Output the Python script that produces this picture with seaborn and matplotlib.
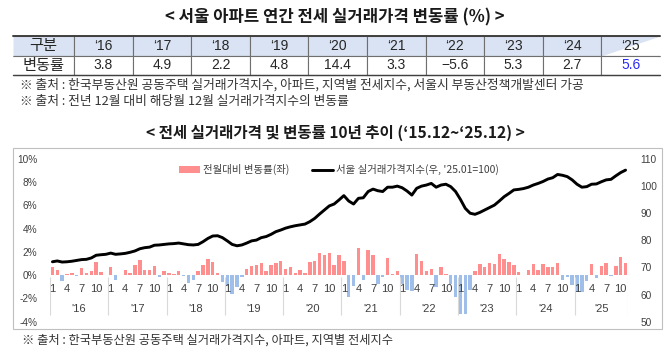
import numpy as np
import pandas as pd
import matplotlib
matplotlib.use("Agg")
import matplotlib.pyplot as plt
from matplotlib.patches import Patch, Rectangle
from matplotlib.lines import Line2D
import seaborn as sns

# ---------------- data ----------------
table_years = ["‘16", "‘17", "‘18", "‘19", "‘20", "‘21", "‘22", "‘23", "‘24", "‘25"]
table_values = ["3.8", "4.9", "2.2", "4.8", "14.4", "3.3", "−5.6", "5.3", "2.7", "5.6"]

year_labels = ["'16", "'17", "'18", "'19", "'20", "'21", "'22", "'23", "'24", "'25"]
month_tick_labels = ["1", "4", "7", "10"]

# month-on-month change (%), Jan 2016 .. Nov 2025
mom_change = [
    0.72, 0.43, -0.49, 0.11, 0.17, -0.06, 0.60, 0.20, 0.40, 1.12, 0.26, 0.00,
    0.72, -0.43, 0.00, 0.49, 0.20, 0.92, 1.32, 0.49, 0.49, 0.78, -0.14, 0.37,
    0.20, 0.09, 0.37, -0.05, -0.63, -0.43, 0.37, 0.86, 1.38, 1.15, 0.20, -0.57,
    -0.92, -1.58, -1.00, -0.14, 0.57, 0.78, 0.86, 1.09, 0.37, 0.92, 1.03, 1.20,
    0.52, 0.72, 0.20, 0.43, 0.23, 1.15, 1.20, 1.92, 1.72, 1.87, 0.86, 1.72,
    1.20, -1.90, -0.92, 2.36, -0.37, 2.18, 1.75, -0.72, -0.17, 1.44, 0.08, 0.37,
    -0.75, -1.30, -1.35, 1.80, 1.24, 0.40, 0.55, -1.00, 0.70, 0.14, -0.72, -1.90,
    -3.30, -3.30, -1.27, 0.34, 0.94, 0.72, 1.09, 0.95, 1.84, 1.40, 1.15, 0.92,
    0.29, 0.00, 0.43, 0.96, 0.43, 0.96, 0.68, 0.68, 1.02, -0.37, -0.15, -0.86,
    -1.41, -1.44, -0.50, 0.94, -0.25, 0.78, 1.06, -0.10, 0.83, 1.61, 1.03,
]

# Seoul real transaction price index ('25.01 = 100)
price_index = [
    72.1, 72.4, 72.0, 72.1, 72.3, 72.6, 72.9, 73.0, 73.5, 74.5, 74.7, 74.85,
    75.3, 74.85, 75.0, 75.2, 75.6, 76.1, 76.9, 77.3, 77.5, 78.2, 78.3, 78.5,
    78.7, 78.8, 79.0, 78.7, 78.4, 78.3, 78.5, 79.5, 80.7, 81.6, 81.7, 81.0,
    79.8, 78.5, 78.0, 78.3, 79.0, 79.8, 80.1, 81.0, 81.4, 82.2, 83.2, 83.8,
    84.5, 85.0, 85.4, 85.7, 86.0, 86.9, 88.1, 89.7, 91.2, 92.7, 93.4, 94.9,
    96.5, 94.5, 93.4, 95.5, 95.7, 98.0, 98.9, 98.3, 98.0, 99.6, 99.6, 100.0,
    99.4, 98.2, 96.7, 99.2, 100.0, 100.4, 101.0, 99.6, 100.4, 100.7, 99.8, 98.0,
    95.1, 91.8, 90.0, 89.6, 90.3, 91.2, 92.1, 93.0, 94.5, 96.1, 97.3, 98.6,
    98.8, 99.1, 99.6, 100.4, 101.0, 101.7, 102.6, 103.1, 104.3, 104.0, 103.5, 102.3,
    100.7, 99.6, 99.8, 100.7, 100.8, 101.6, 102.3, 102.5, 103.8, 105.0, 105.9,
]

title_top = "< 서울 아파트 연간 전세 실거래가격 변동률 (%) >"
note1 = "※ 출처 : 한국부동산원 공동주택 실거래가격지수, 아파트, 지역별 전세지수, 서울시 부동산정책개발센터 가공"
note2 = "※ 출처 : 전년 12월 대비 해당월 12월 실거래가격지수의 변동률"
title_chart = "< 전세 실거래가격 및 변동률 10년 추이 (‘15.12~‘25.12) >"
footnote = "※ 출처 : 한국부동산원 공동주택 실거래가격지수, 아파트, 지역별 전세지수"
legend_bar = "전월대비 변동률(좌)"
legend_line = "서울 실거래가격지수(우, '25.01=100)"

POS_COLOR = "#FF8E8E"
NEG_COLOR = "#9FBFEA"

# ---------------- style ----------------
sns.set_theme(style="white")
plt.rcParams["font.family"] = ["Liberation Sans", "Noto Sans CJK KR", "DejaVu Sans"]
KR = ["Noto Sans CJK KR", "DejaVu Sans"]

W, H = 670, 357
fig = plt.figure(figsize=(W / 100, H / 100), dpi=100)


def fx(px):
    return px / W


def fy(py):
    return 1 - py / H


# ---------------- top title, table, notes ----------------
fig.text(fx(335), fy(17), title_top, ha="center", va="center", fontsize=12,
         fontweight="bold", color="#1a1a1a", family=KR)

t_left, t_right, t_top, t_bot = 13, 660, 36, 75
ax_t = fig.add_axes([fx(t_left), fy(t_bot), fx(t_right - t_left), (t_bot - t_top) / H])
ax_t.set_axis_off()
first_w = 61
other_w = (t_right - t_left - first_w) / len(table_years)
col_widths = [first_w / (t_right - t_left)] + [other_w / (t_right - t_left)] * len(table_years)
cell_text = [["구분"] + table_years, ["변동률"] + table_values]
tbl = ax_t.table(cellText=cell_text, colWidths=col_widths, bbox=[0, 0, 1, 1], cellLoc="center")
tbl.auto_set_font_size(False)
ncol = len(table_years) + 1
for (r, c), cell in tbl.get_celld().items():
    cell.set_linewidth(0.8)
    cell.set_edgecolor("#6f6f6f")
    if c == 0:
        cell.visible_edges = "TBR"
    elif c == ncol - 1:
        cell.visible_edges = "TBL"
    else:
        cell.visible_edges = "closed"
    cell.set_facecolor("#DAE3F3" if r == 0 else "white")
    txt = cell.get_text()
    if c == 0:
        txt.set_fontsize(11)
        txt.set_family(KR)
        txt.set_color("#262626")
    else:
        txt.set_fontsize(10)
        txt.set_color("#262626")
    if r == 1 and c == ncol - 1:
        txt.set_color("#2A2AF5")
ax_t.axhline(1, color="#404040", lw=1.4, clip_on=False)
ax_t.axhline(0, color="#404040", lw=1.0, clip_on=False)

note_kw = dict(ha="left", va="center", color="#333333", family=KR)
fig.text(fx(20), fy(85), note1, fontsize=9.2, **note_kw)
fig.text(fx(20), fy(102), note2, fontsize=9.2, **note_kw)

fig.text(fx(335), fy(133), title_chart, ha="center", va="center", fontsize=11.2,
         fontweight="bold", color="#1a1a1a", family=KR)

# chart frame
fig.patches.append(Rectangle((fx(13), fy(329)), fx(649), (329 - 148) / H,
                             transform=fig.transFigure, fill=False,
                             edgecolor="#BFBFBF", lw=0.8))

fig.text(fx(22), fy(340), footnote, fontsize=8.8, **note_kw)

# ---------------- chart ----------------
x_left, x_right, y_top, y_bot = 50, 628, 159, 321.7
ax = fig.add_axes([fx(x_left), fy(y_bot), fx(x_right - x_left), (y_bot - y_top) / H])

n = len(mom_change)
df = pd.DataFrame({
    "m": np.arange(n),
    "chg": mom_change,
    "idx": price_index,
})
bar_colors = [POS_COLOR if v >= 0 else NEG_COLOR for v in df["chg"]]

sns.barplot(data=df, x="m", y="chg", hue="m", palette=bar_colors,
            width=0.7, saturation=1, legend=False, linewidth=0, ax=ax)
ax.set_xlim(-0.5, n - 0.5)
ax.set_ylim(-4, 10)
ax.set_yticks(np.arange(-4, 11, 2))
ax.set_yticklabels([f"{v}%" for v in range(-4, 11, 2)])
ax.set_xticks([])
ax.set_xlabel("")
ax.set_ylabel("")
for s in ax.spines.values():
    s.set_visible(False)
ax.tick_params(axis="y", length=0, pad=9, labelsize=7.3, labelcolor="#404040")

ax2 = ax.twinx()
sns.lineplot(data=df, x="m", y="idx", color="black", lw=2.1, ax=ax2)
ax2.set_ylim(50, 110)
ax2.set_yticks(np.arange(50, 111, 10))
ax2.set_xlim(-0.5, n - 0.5)
ax2.set_xlabel("")
ax2.set_ylabel("")
for s in ax2.spines.values():
    s.set_visible(False)
ax2.tick_params(axis="y", length=0, pad=9, labelsize=7.3, labelcolor="#404040")

# multi-level category axis
xt = ax.get_xaxis_transform()
seps = [12 * k - 0.5 for k in range(len(year_labels))] + [n - 0.5]
ax.vlines(seps, 0.041, 0.277, transform=xt, colors="#D9D9D9", lw=0.8)
for k, yl in enumerate(year_labels):
    start = 12 * k
    end = min(12 * k + 11, n - 1)
    for j, lab in zip([0, 3, 6, 9], month_tick_labels):
        if start + j < n:
            ax.text(start + j, 0.201, lab, transform=xt, ha="center", va="center",
                    fontsize=8, color="#404040")
    ax.text((start + end) / 2, 0.078, yl, transform=xt, ha="center", va="center",
            fontsize=8, color="#404040")

handles = [Patch(facecolor=POS_COLOR, edgecolor="none"),
           Line2D([], [], color="black", lw=2.1)]
leg = ax2.legend(handles, [legend_bar, legend_line], loc="upper center",
                 bbox_to_anchor=(0.5, 1.0), ncol=2, frameon=False, fontsize=7.5,
                 handlelength=2.0, handleheight=0.6, columnspacing=2.2,
                 handletextpad=0.25, borderaxespad=0.1)
for t in leg.get_texts():
    t.set_color("#404040")
    t.set_family(KR)

fig.savefig("out.png", dpi=100)
